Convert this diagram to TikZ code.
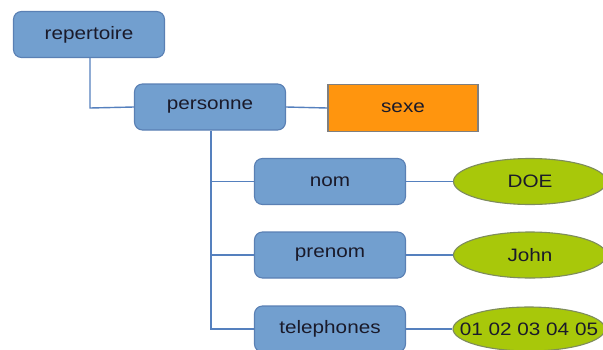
\documentclass[tikz,border=0pt]{standalone}
\usepackage{fontspec}
\setmainfont[FakeStretch=1.15]{Liberation Sans}
\usetikzlibrary{shapes.geometric}
\definecolor{boxblue}{HTML}{729FCF}
\definecolor{boxedge}{HTML}{5A80B4}
\definecolor{linkblue}{HTML}{5580BE}
\definecolor{leafgreen}{HTML}{A8C80A}
\definecolor{leafedge}{HTML}{7E8C5C}
\definecolor{attrorange}{HTML}{FF950E}
\definecolor{attredge}{HTML}{7F7F7F}
\definecolor{txt}{HTML}{1A1A2A}
\tikzset{
  elem/.style={draw=boxedge, line width=1.1pt, fill=boxblue, rounded corners=8pt,
    minimum width=151pt, minimum height=46pt, inner sep=0pt},
  attr/.style={draw=attredge, line width=1.1pt, fill=attrorange,
    minimum width=150pt, minimum height=47pt, inner sep=0pt},
  val/.style={ellipse, draw=leafedge, line width=1.1pt, fill=leafgreen,
    minimum width=153pt, minimum height=46pt, inner sep=0pt},
  vallabel/.style={inner sep=0pt},
  link/.style={draw=linkblue, line width=1.4pt},
  every node/.style={font=\fontsize{18}{20}\selectfont, text=txt}
}
\begin{document}
\begin{tikzpicture}[x=1pt, y=-1pt]
  \useasboundingbox (0,0) rectangle (603,349);
  \clip (0,0) rectangle (603,349);
  \fill[white] (0,0) rectangle (603,349);

  % bend and branch points of the tree links
  \coordinate (rdown) at (90,108);
  \coordinate (ptrunk) at (211,130);
  \coordinate (b1) at (211,181.5);
  \coordinate (b2) at (211,255);
  \coordinate (b3) at (211,329);

  % element boxes
  \node[elem] (rep) at (89,34.5) {repertoire};
  \node[elem] (pers) at (210,107) {personne};
  \node[attr] (sexe) at (403,108) {sexe};
  \node[elem] (nom) at (330,181.5) {nom};
  \node[elem] (prenom) at (330,255) {prenom};
  \node[elem] (tel) at (330,329) {telephones};

  % text values
  \node[val] (doe) at (530,181.5) {};
  \node[vallabel] at (doe.center) {DOE};
  \node[val] (john) at (530,255) {};
  \node[vallabel] at (john.center) {John};
  \node[val, minimum width=152pt, minimum height=44pt] (num) at (529,329) {};
  \node[vallabel] at (num.center) {01 02 03 04 05};

  % links
  \draw[link] (rep.south -| rdown) -- (rdown) -- (pers.west);
  \draw[link] (pers.east) -- (sexe.west);
  \draw[link] (pers.south -| ptrunk) -- (b3) -- (tel.west);
  \draw[link] (b1) -- (nom.west);
  \draw[link] (b2) -- (prenom.west);
  \draw[link] (nom.east) -- (doe.west);
  \draw[link] (prenom.east) -- (john.west);
  \draw[link] (tel.east) -- (num.west);
\end{tikzpicture}
\end{document}
